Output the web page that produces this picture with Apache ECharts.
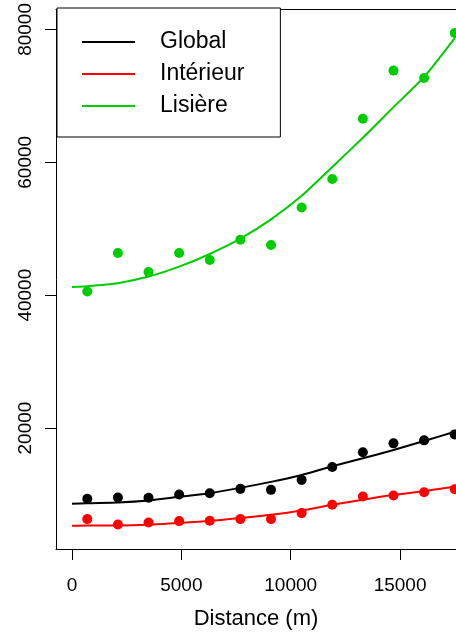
<!DOCTYPE html>
<html>
<head>
<meta charset="utf-8">
<script src="https://cdn.jsdelivr.net/npm/echarts@6/dist/echarts.min.js"></script>
<style>
  html, body { margin: 0; padding: 0; background: #fff; }
  #chart { width: 456px; height: 637px; }
</style>
</head>
<body>
<div id="chart"></div>
<script>
// ---- data ----
const distances = [700, 2100, 3500, 4900, 6300, 7700, 9100, 10500, 11900, 13300, 14700, 16100, 17500];
const globalPts = [9350, 9550, 9500, 10000, 10200, 10850, 10700, 12200, 14150, 16350, 17700, 18150, 19050];
const interieurPts = [6300, 5500, 5800, 6000, 6050, 6300, 6300, 7200, 8450, 9700, 9850, 10350, 10800];
const lisierePts = [40550, 46350, 43500, 46350, 45300, 48350, 47550, 53200, 57500, 66550, 73800, 72700, 79450];

const fitX = [0, 700, 2100, 3500, 4900, 6300, 7700, 9100, 10500, 11900, 13300, 14700, 16100, 17500];
const globalFit = [8600, 8700, 8800, 9100, 9650, 10200, 11000, 11900, 12950, 14250, 15450, 16700, 18050, 19450];
const interieurFit = [5300, 5350, 5350, 5450, 5700, 6000, 6450, 6950, 7600, 8450, 9200, 9950, 10500, 11200];
const lisiereFit = [41250, 41350, 41800, 42800, 44300, 46200, 48500, 51400, 54950, 59300, 63700, 68300, 72850, 78700];

const xTicks = [0, 5000, 10000, 15000];
const yTicks = [20000, 40000, 60000, 80000];
const seriesNames = ['Global', 'Intérieur', 'Lisière'];
const xTitle = 'Distance (m)';

// ---- chart ----
const colors = ['#000000', '#FF0000', '#00CD00'];
const pts = [globalPts, interieurPts, lisierePts];
const fits = [globalFit, interieurFit, lisiereFit];
const FONT = '"Liberation Sans", Arial, Helvetica, sans-serif';

const series = [];
seriesNames.forEach((name, i) => {
  series.push({
    name: name + ' (points)',
    type: 'scatter',
    data: distances.map((d, k) => [d, pts[i][k]]),
    symbol: 'circle',
    symbolSize: 10,
    clip: false,
    itemStyle: { color: colors[i], opacity: 1 },
    z: 3
  });
});
seriesNames.forEach((name, i) => {
  series.push({
    name: name,
    type: 'line',
    data: fitX.map((d, k) => [d, fits[i][k]]),
    showSymbol: false,
    symbol: 'none',
    smooth: 0.2,
    clip: false,
    lineStyle: { color: colors[i], width: 2 },
    itemStyle: { color: colors[i] },
    z: 4
  });
});

const axisBlack = { color: '#000', width: 1 };

const chart = echarts.init(document.getElementById('chart'), null, { renderer: 'canvas' });
chart.setOption({
  animation: false,
  backgroundColor: '#ffffff',
  textStyle: { fontFamily: FONT },
  grid: {
    show: false,
    left: 56, top: 8, right: 0, bottom: 88,
    containLabel: false
  },
  xAxis: [{
    type: 'value',
    position: 'bottom',
    min: -730, max: 17558,
    name: xTitle,
    nameLocation: 'middle',
    nameGap: 59,
    nameTextStyle: { fontSize: 22, color: '#000', fontFamily: FONT },
    axisLine: { show: true, onZero: false, lineStyle: axisBlack },
    splitLine: { show: false },
    axisTick: { show: true, customValues: xTicks, length: 11, inside: false, lineStyle: axisBlack },
    axisLabel: { customValues: xTicks, fontSize: 19, color: '#000', margin: 27, fontFamily: FONT,
                 formatter: v => String(v) }
  }, {
    type: 'value',
    position: 'top',
    min: -730, max: 17558,
    axisLine: { show: true, onZero: false, lineStyle: axisBlack },
    axisTick: { show: false },
    axisLabel: { show: false },
    splitLine: { show: false }
  }],
  yAxis: {
    type: 'value',
    position: 'left',
    min: 1800, max: 83000,
    axisLine: { show: true, onZero: false, lineStyle: axisBlack },
    splitLine: { show: false },
    axisTick: { show: true, customValues: yTicks, length: 11, inside: false, lineStyle: axisBlack },
    axisLabel: { customValues: yTicks, rotate: 90, fontSize: 19, color: '#000', margin: 21, fontFamily: FONT,
                 formatter: v => String(v) }
  },
  legend: {
    data: seriesNames,
    orient: 'vertical',
    left: 57, top: 8,
    padding: [22, 36, 19, 25],
    icon: 'rect',
    itemWidth: 53,
    itemHeight: 2,
    itemGap: 8,
    backgroundColor: '#ffffff',
    borderColor: '#000',
    borderWidth: 1,
    borderRadius: 0,
    selectedMode: false,
    textStyle: { fontSize: 23, lineHeight: 24, color: '#000', fontFamily: FONT, padding: [0, 0, 0, 20] }
  },
  series: series
});
</script>
</body>
</html>
